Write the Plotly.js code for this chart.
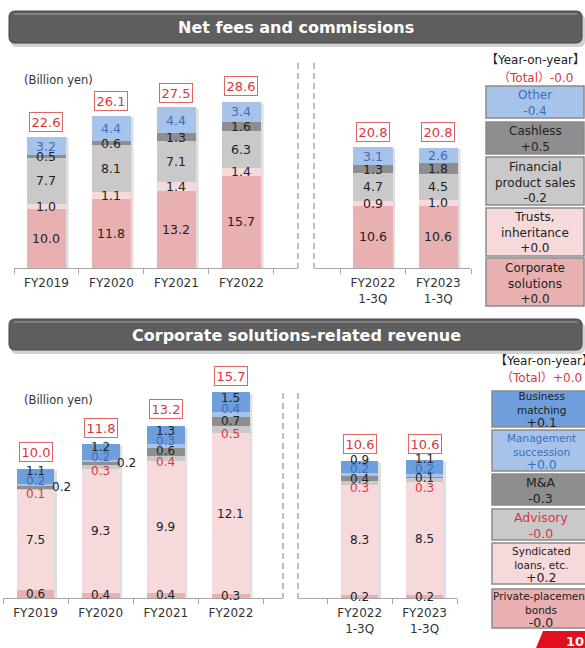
<!DOCTYPE html>
<html>
<head>
<meta charset="utf-8">
<script src="https://cdn.plot.ly/plotly-3.0.1.min.js"></script>
<style>html,body{margin:0;padding:0;background:#fff;}#chart{width:585px;height:648px;}</style>
</head>
<body>
<div id="chart"></div>
<script>
// ---------------- DATA ----------------
const yearsFY = ['FY2019', 'FY2020', 'FY2021', 'FY2022'];
const yearsQ = ['FY2022<br>1-3Q', 'FY2023<br>1-3Q'];

// Net fees and commissions (Billion yen)
const corpFY = [10.0, 11.8, 13.2, 15.7];
const corpQ = [10.6, 10.6];
const trustFY = [1.0, 1.1, 1.4, 1.4];
const trustQ = [0.9, 1.0];
const finFY = [7.7, 8.1, 7.1, 6.3];
const finQ = [4.7, 4.5];
const cashFY = [0.5, 0.6, 1.3, 1.6];
const cashQ = [1.3, 1.8];
const otherFY = [3.2, 4.4, 4.4, 3.4];
const otherQ = [3.1, 2.6];
const feesTotalFY = [22.6, 26.1, 27.5, 28.6];
const feesTotalQ = [20.8, 20.8];

// Corporate solutions-related revenue (Billion yen)
const ppFY = [0.6, 0.4, 0.4, 0.3];
const ppQ = [0.2, 0.2];
const syndFY = [7.5, 9.3, 9.9, 12.1];
const syndQ = [8.3, 8.5];
const advFY = [0.1, 0.3, 0.4, 0.5];
const advQ = [0.3, 0.3];
const maFY = [0.2, 0.2, 0.6, 0.7];
const maQ = [0.4, 0.1];
const msFY = [0.2, 0.2, 0.3, 0.4];
const msQ = [0.2, 0.2];
const bmFY = [1.1, 1.2, 1.3, 1.5];
const bmQ = [0.9, 1.1];
const csTotalFY = [10.0, 11.8, 13.2, 15.7];
const csTotalQ = [10.6, 10.6];

// Year-on-year legends
const feesLegendNames = ['Other', 'Cashless', 'Financial<br>product sales', 'Trusts,<br>inheritance', 'Corporate<br>solutions'];
const feesLegendYoY = ['-0.4', '+0.5', '-0.2', '+0.0', '+0.0'];
const feesTotalYoY = '-0.0';
const csLegendNames = ['Business<br>matching', 'Management<br>succession', 'M&A', 'Advisory', 'Syndicated<br>loans, etc.', 'Private-placement<br>bonds'];
const csLegendYoY = ['+0.1', '+0.0', '-0.3', '-0.0', '+0.2', '-0.0'];
const csTotalYoY = '+0.0';

// ---------------- STYLE ----------------
const FONT = 'DejaVu Sans, Noto Sans CJK JP, sans-serif';
const W = 585, H = 648;
const px = x => x / W;
const py = y => 1 - y / H;
const BLUE_T = '#3C6EBE', RED_T = '#D9363E', BLACK_T = '#222';
const TOP_UNIT = 5.86, BOT_UNIT = 13.3;

const feesSeries = [
  {FY: corpFY, Q: corpQ, color: '#E8B0B1', tc: BLACK_T},
  {FY: trustFY, Q: trustQ, color: '#F6D9DA', tc: BLACK_T},
  {FY: finFY, Q: finQ, color: '#C9C9C9', tc: BLACK_T},
  {FY: cashFY, Q: cashQ, color: '#8E8E8E', tc: BLACK_T},
  {FY: otherFY, Q: otherQ, color: '#A7C3E9', tc: BLUE_T}
];
const csSeries = [
  {FY: ppFY, Q: ppQ, color: '#E8B0B1', tc: BLACK_T, ys: 0},
  {FY: syndFY, Q: syndQ, color: '#F6D9DA', tc: BLACK_T, ys: 0},
  {FY: advFY, Q: advQ, color: '#C9C9C9', tc: RED_T, ys: -4, chain: true},
  {FY: maFY, Q: maQ, color: '#8E8E8E', tc: BLACK_T, ys: 1, chain: true, outside: true},
  {FY: msFY, Q: msQ, color: '#A7C3E9', tc: BLUE_T, ys: 5, chain: true},
  {FY: bmFY, Q: bmQ, color: '#6E9EDB', tc: BLACK_T, ys: 4, chain: true}
];

const traces = [];
const annotations = [];
const shapes = [];

function addPanel(series, xs, xa, ya, width, fsize, unit) {
  const cum = xs.map(() => 0);
  const labels = xs.map(() => []);
  series.forEach(s => {
    traces.push({
      type: 'bar', x: xs, y: s.vals, xaxis: xa, yaxis: ya, width: width,
      marker: {color: s.color, line: {width: 0}}, hoverinfo: 'skip', showlegend: false
    });
    s.vals.forEach((v, i) => {
      const mid = cum[i] + v / 2;
      cum[i] += v;
      const out = !!(s.outside && v <= 0.2 && i < 2 && xa === 'x3');
      labels[i].push({v: v, mid: mid, u: mid * unit + (s.ys || 0), s: s, out: out});
    });
  });
  // spread crowded small-segment labels apart (min gap in px)
  const GAP = 9.5;
  labels.forEach(list => {
    const chain = list.filter(l => l.s.chain && !l.out);
    for (let it = 0; it < 60; it++) {
      for (let k = 0; k < chain.length - 1; k++) {
        const d = chain[k + 1].u - chain[k].u;
        if (d < GAP) {
          const p = (GAP - d) / 2;
          chain[k].u -= p; chain[k + 1].u += p;
        }
      }
    }
  });
  labels.forEach((list, i) => {
    list.forEach(l => {
      annotations.push({
        xref: xa, yref: ya, x: xs[i], y: l.mid, text: l.v.toFixed(1), showarrow: false,
        xanchor: 'center', yanchor: 'middle',
        font: {family: FONT, size: fsize, color: l.s.tc},
        yshift: l.u - l.mid * unit, xshift: l.out ? 26 : 0
      });
    });
  });
  // soft drop shadow on the right of each stacked bar (derived from the stack totals)
  cum.forEach((top, i) => {
    shapes.push({type: 'rect', xref: xa, yref: ya, layer: 'below',
      x0: i - width / 2 + 0.04, x1: i + width / 2 + 0.04, y0: 0, y1: top * 0.99,
      fillcolor: 'rgba(150,150,150,0.3)', line: {width: 0}});
  });
}

function addTotals(xs, totals, xa, ya, shift) {
  totals.forEach((t, i) => {
    annotations.push({
      xref: xa, yref: ya, x: xs[i], y: t, text: t.toFixed(1), showarrow: false,
      xanchor: 'center', yanchor: 'bottom', yshift: shift,
      font: {family: FONT, size: 13, color: RED_T},
      bordercolor: '#E06666', borderwidth: 1, borderpad: 1.5, bgcolor: '#fff'
    });
  });
}

addPanel(feesSeries.map(s => ({...s, vals: s.FY})), yearsFY, 'x', 'y', 0.6, 12.5, TOP_UNIT);
addPanel(feesSeries.map(s => ({...s, vals: s.Q})), yearsQ, 'x2', 'y2', 0.6, 12.5, TOP_UNIT);
addPanel(csSeries.map(s => ({...s, vals: s.FY})), yearsFY, 'x3', 'y3', 0.58, 12, BOT_UNIT);
addPanel(csSeries.map(s => ({...s, vals: s.Q})), yearsQ, 'x4', 'y4', 0.58, 12, BOT_UNIT);
addTotals(yearsFY, feesTotalFY, 'x', 'y', 4);
addTotals(yearsQ, feesTotalQ, 'x2', 'y2', 4);
addTotals(yearsFY, csTotalFY, 'x3', 'y3', 3);
addTotals(yearsQ, csTotalQ, 'x4', 'y4', 3);

// helper for paper-positioned text
function ptext(x, y, text, size, color, xanchor) {
  annotations.push({xref: 'paper', yref: 'paper', x: px(x), y: py(y), text: text, showarrow: false,
    xanchor: xanchor || 'center', yanchor: 'middle', font: {family: FONT, size: size, color: color}});
}

// ---------- title bars ----------
function rr(x0, y0, x1, y1, r) {
  return `M${px(x0 + r)},${py(y0)} L${px(x1 - r)},${py(y0)} Q${px(x1)},${py(y0)} ${px(x1)},${py(y0 + r)} ` +
    `L${px(x1)},${py(y1 - r)} Q${px(x1)},${py(y1)} ${px(x1 - r)},${py(y1)} L${px(x0 + r)},${py(y1)} ` +
    `Q${px(x0)},${py(y1)} ${px(x0)},${py(y1 - r)} L${px(x0)},${py(y0 + r)} Q${px(x0)},${py(y0)} ${px(x0 + r)},${py(y0)} Z`;
}
function titleBar(y0, y1, text) {
  shapes.push({type: 'path', xref: 'paper', yref: 'paper', path: rr(11, y0 + 3, 585, y1 + 4, 6),
    fillcolor: 'rgba(0,0,0,0.18)', line: {width: 0}, layer: 'below'});
  shapes.push({type: 'path', xref: 'paper', yref: 'paper', path: rr(9, y0, 582, y1, 6),
    fillcolor: '#5E5E5E', line: {color: '#444', width: 1}, layer: 'below'});
  shapes.push({type: 'line', xref: 'paper', yref: 'paper', x0: px(14), x1: px(577), y0: py(y0 + 3), y1: py(y0 + 3),
    line: {color: '#8C8C8C', width: 1.5}, layer: 'below'});
  ptext(296, (y0 + y1) / 2 + 1, '<b>' + text + '</b>', 16, '#fff');
}
titleBar(11, 43, 'Net fees and commissions');
titleBar(319, 350, 'Corporate solutions-related revenue');

// unit labels
ptext(22, 80, '(Billion yen)', 11.5, '#333', 'left');
ptext(22, 400, '(Billion yen)', 11.5, '#333', 'left');

// dashed separators
[[298, 63, 268], [314, 63, 268], [283, 393, 598], [298, 393, 598]].forEach(d => {
  shapes.push({type: 'line', xref: 'paper', yref: 'paper', x0: px(d[0]), x1: px(d[0]), y0: py(d[1]), y1: py(d[2]),
    line: {color: '#AAAAAA', width: 1.5, dash: '6px,4px'}});
});

// ---------- YoY legend boxes ----------
const feesBoxes = [[86, 118], [122, 154], [157, 205], [208, 256], [258, 306]];
const feesBoxColors = ['#A7C3E9', '#8E8E8E', '#C9C9C9', '#F6D9DA', '#E8B0B1'];
const feesBoxText = [BLUE_T, BLACK_T, BLACK_T, BLACK_T, BLACK_T];
ptext(535, 60, '【Year-on-year】', 12, '#222');
ptext(535, 78, '（Total）' + feesTotalYoY, 12, RED_T);
feesBoxes.forEach((b, i) => {
  shapes.push({type: 'rect', xref: 'paper', yref: 'paper', x0: px(486), x1: px(584), y0: py(b[0]), y1: py(b[1]),
    fillcolor: feesBoxColors[i], line: {color: '#8A8A8A', width: 1.5}});
  ptext(535, (b[0] + b[1]) / 2 + 1, feesLegendNames[i] + '<br>' + feesLegendYoY[i], 12, feesBoxText[i]);
});

const csBoxes = [[391, 427], [430, 471], [474, 505], [509, 540], [543, 584], [589, 628]];
const csBoxColors = ['#6E9EDB', '#A7C3E9', '#8E8E8E', '#C9C9C9', '#F6D9DA', '#E8B0B1'];
const csBoxText = [BLACK_T, BLUE_T, BLACK_T, RED_T, BLACK_T, BLACK_T];
ptext(493, 361, '【Year-on-year】', 12, '#222', 'left');
ptext(541, 378, '（Total）' + csTotalYoY, 12, RED_T);
csBoxes.forEach((b, i) => {
  shapes.push({type: 'rect', xref: 'paper', yref: 'paper', x0: px(492), x1: px(592), y0: py(b[0]), y1: py(b[1]),
    fillcolor: csBoxColors[i], line: {color: '#8A8A8A', width: 1.5}});
  const single = csLegendNames[i].indexOf('<br>') < 0;
  ptext(541, (b[0] + b[1]) / 2 + 1,
    csLegendNames[i] + '<br><span style="font-size:12.5px">' + csLegendYoY[i] + '</span>',
    single ? 12.5 : 10.5, csBoxText[i]);
});

// page number corner
shapes.push({type: 'path', xref: 'paper', yref: 'paper',
  path: `M${px(536)},${py(648)} L${px(543)},${py(631)} L${px(586)},${py(631)} L${px(586)},${py(648)} Z`,
  fillcolor: '#E0101E', line: {width: 0}});
ptext(586, 641, '<b>10</b>', 13, '#fff', 'right');

// ---------- axes ----------
function xax(d0, d1, r0, r1, anchor) {
  return {domain: [px(d0), px(d1)], type: 'category', range: [r0, r1], anchor: anchor,
    showline: true, linecolor: '#A6A6A6', linewidth: 1, ticks: 'outside', tickson: 'boundaries',
    ticklen: 5, tickcolor: '#A6A6A6', showgrid: false, zeroline: false, fixedrange: true,
    ticklabelstandoff: 4,
    tickfont: {family: FONT, size: 12, color: '#333'}};
}
function yax(base, top, unit, anchor) {
  return {domain: [py(base), py(top)], range: [0, (base - top) / unit], visible: false, anchor: anchor,
    showgrid: false, zeroline: false, fixedrange: true};
}

const layout = {
  width: W, height: H, margin: {l: 0, r: 0, t: 0, b: 0},
  paper_bgcolor: '#fff', plot_bgcolor: 'rgba(0,0,0,0)',
  barmode: 'stack', showlegend: false, font: {family: FONT},
  xaxis: xax(14, 298, -0.5, 3.87, 'y'),
  yaxis: yax(268, 60, TOP_UNIT, 'x'),
  xaxis2: xax(314, 471, -0.9, 1.5, 'y2'),
  yaxis2: yax(268, 60, TOP_UNIT, 'x2'),
  xaxis3: xax(3, 283, -0.5, 3.8, 'y3'),
  yaxis3: yax(598, 360, BOT_UNIT, 'x3'),
  xaxis4: xax(298, 457, -0.95, 1.5, 'y4'),
  yaxis4: yax(598, 360, BOT_UNIT, 'x4'),
  annotations: annotations,
  shapes: shapes
};

Plotly.newPlot('chart', traces, layout, {displayModeBar: false, staticPlot: true});
</script>
</body>
</html>
